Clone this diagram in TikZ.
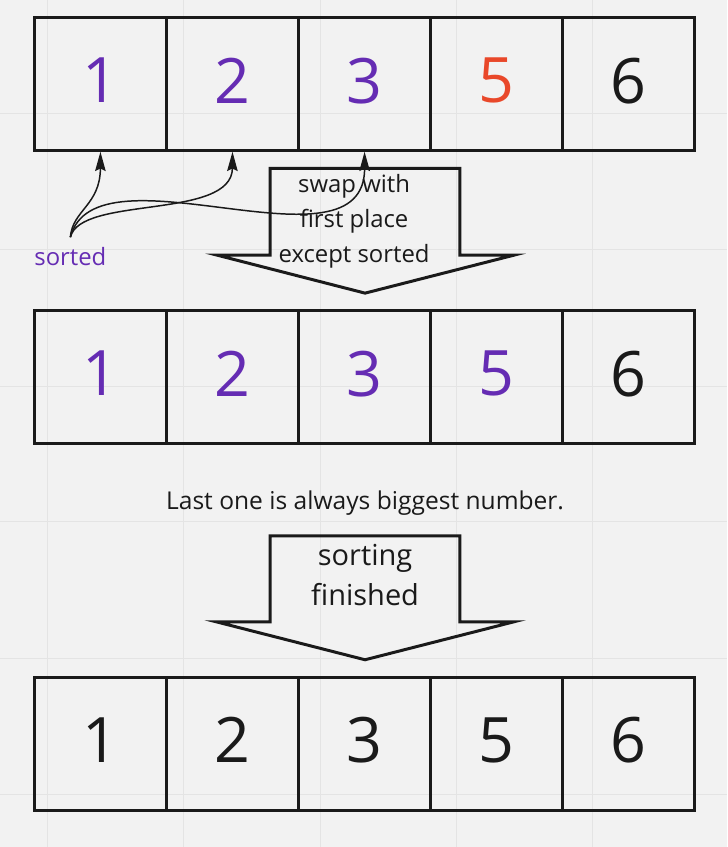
\documentclass[tikz,border=0pt]{standalone}
\usepackage{fontspec}
\setmainfont{Open Sans}
\usetikzlibrary{arrows,arrows.meta,positioning,calc}
\definecolor{vio}{RGB}{101,44,179}
\definecolor{rd}{RGB}{233,72,42}
\definecolor{blk}{RGB}{26,26,26}
\definecolor{bg}{RGB}{242,242,242}
\definecolor{gridc}{RGB}{228,228,228}
\tikzset{
  cell/.style={draw=blk,line width=1.7pt,minimum width=2.644cm,minimum height=2.66cm,inner sep=0pt,
    text depth=0.4em,font=\fontsize{35.7}{40}\selectfont},
  blockarrow/.style={draw=blk,line width=1.7pt,line join=miter},
  note/.style={text=blk,font=\fontsize{13.6}{19.8}\selectfont,align=center,inner sep=0pt},
  conn/.style={draw=blk,line width=0.85pt,-{Stealth[length=11pt,width=6pt,inset=1.5pt]}}
}
\begin{document}
\begin{tikzpicture}[x=0.02cm,y=-0.02cm]
\fill[bg] (0,0) rectangle (727,847);
\foreach \x in {47,183.5,320,456.5,593} \draw[gridc,line width=0.5pt] (\x,0) -- (\x,847);
\foreach \y in {113,249.5,386,522,658.5,795} \draw[gridc,line width=0.5pt] (0,\y) -- (727,\y);
\useasboundingbox (0,0) rectangle (727,847);
\foreach \v/\c [count=\i] in {1/vio,2/vio,3/vio,5/rd,6/blk}
  \node[cell,text=\c] (top\i) at ({-32.1+132.2*\i},83.5) {\v};
\foreach \v/\c [count=\i] in {1/vio,2/vio,3/vio,5/vio,6/blk}
  \node[cell,text=\c] (mid\i) at ({-32.1+132.2*\i},377) {\v};
\foreach \v [count=\i] in {1,2,3,5,6}
  \node[cell,text=blk] (bot\i) at ({-32.1+132.2*\i},744) {\v};
\draw[blockarrow] (270,168) -- (460,168) -- (460,255) -- (514,255) -- (365,293) -- (217,255) -- (270,255) -- cycle;
\node[note] (swap) at (354,221) {swap with\\first place\\except sorted};
\node[note,text=vio] (sorted) at (70,256) {sorted};
\coordinate (src) at (70,237);
\draw[conn] (src) .. controls (72,210) and (100,205) .. (top1.south);
\draw[conn] (src) .. controls (80,195) and (232,220) .. (top2.south);
\draw[conn] (src) .. controls (95,140) and (365,280) .. (top3.south);
\node[note,font=\fontsize{14}{19.8}\selectfont] (last) at (365,503) {Last one is always biggest number.};
\draw[blockarrow] (270,536) -- (460,536) -- (460,622) -- (514,622) -- (365,660) -- (216,622) -- (270,622) -- cycle;
\node[note,font=\fontsize{16.5}{23}\selectfont] (done) at (365,575) {sorting\\finished};
\end{tikzpicture}
\end{document}
